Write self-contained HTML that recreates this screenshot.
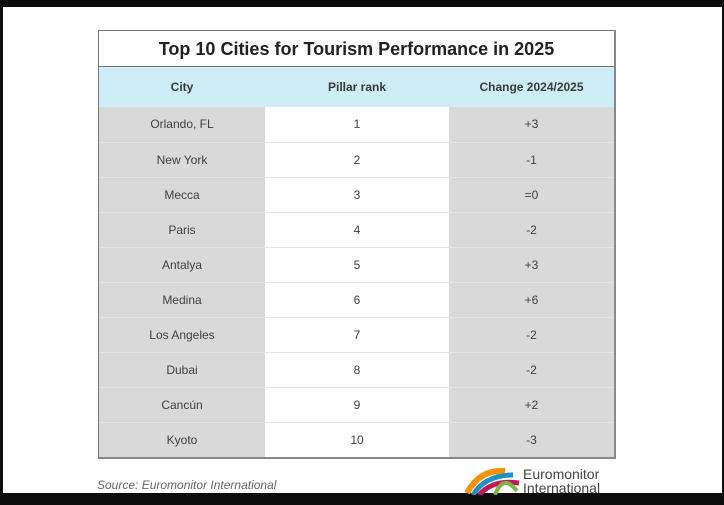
<!DOCTYPE html>
<html><head><style>
body{margin:0;width:724px;height:505px;background:#0d0d0d;position:relative;overflow:hidden;font-family:"Liberation Sans",sans-serif}
#pg{position:absolute;left:3px;top:7px;width:719px;height:486px;background:#fff}
#t{position:absolute;left:98px;top:30px;width:515px;border:1.5px solid #777;border-right:2px solid #888;border-bottom:2px solid #888}
.title{height:35px;border-bottom:1.5px solid #777;text-align:center;font-weight:bold;font-size:18px;line-height:36px;color:#222}
.hdr{height:40px;background:#cdedf7;display:flex;font-size:12px;font-weight:bold;color:#3a3a3a;line-height:40px}
.row{height:35px;display:flex;font-size:12px;color:#404040;line-height:35px;box-sizing:border-box;border-top:1px solid #e4e4e4}
.hdr+.row{border-top:none}
.c1{width:166px;text-align:center}
.c2{width:184px;text-align:center}
.c3{flex:1;text-align:center}
.row .c1,.row .c3{background:#d9d9d9}
.row .c2{background:#fff}
#src{position:absolute;left:97px;top:478px;font-style:italic;font-size:12px;color:#666}
#logo{position:absolute;left:465px;top:465px}
#lt{position:absolute;left:523px;top:467px;font-size:14px;line-height:14px;color:#444}
</style></head><body>
<div id="pg"></div>
<div id="t">
<div class="title">Top 10 Cities for Tourism Performance in 2025</div>
<div class="hdr"><div class="c1">City</div><div class="c2">Pillar rank</div><div class="c3">Change 2024/2025</div></div>
<div class="row"><div class="c1">Orlando, FL</div><div class="c2">1</div><div class="c3">+3</div></div>
<div class="row"><div class="c1">New York</div><div class="c2">2</div><div class="c3">-1</div></div>
<div class="row"><div class="c1">Mecca</div><div class="c2">3</div><div class="c3">=0</div></div>
<div class="row"><div class="c1">Paris</div><div class="c2">4</div><div class="c3">-2</div></div>
<div class="row"><div class="c1">Antalya</div><div class="c2">5</div><div class="c3">+3</div></div>
<div class="row"><div class="c1">Medina</div><div class="c2">6</div><div class="c3">+6</div></div>
<div class="row"><div class="c1">Los Angeles</div><div class="c2">7</div><div class="c3">-2</div></div>
<div class="row"><div class="c1">Dubai</div><div class="c2">8</div><div class="c3">-2</div></div>
<div class="row"><div class="c1">Cancún</div><div class="c2">9</div><div class="c3">+2</div></div>
<div class="row"><div class="c1">Kyoto</div><div class="c2">10</div><div class="c3">-3</div></div>
</div>
<div id="src">Source: Euromonitor International</div>
<svg id="logo" width="58" height="30"><path d="M2 28 Q15 4 40 6" stroke="#f39200" stroke-width="6" fill="none"/><path d="M8 30 Q20 10 48 10" stroke="#1d8fc9" stroke-width="5" fill="none"/><path d="M14 30 Q28 14 54 18" stroke="#c2185b" stroke-width="5" fill="none"/><path d="M30 30 Q38 8 52 26" stroke="#7cb342" stroke-width="4" fill="none"/></svg>
<div id="lt">Euromonitor<br>International</div>
</body></html>
